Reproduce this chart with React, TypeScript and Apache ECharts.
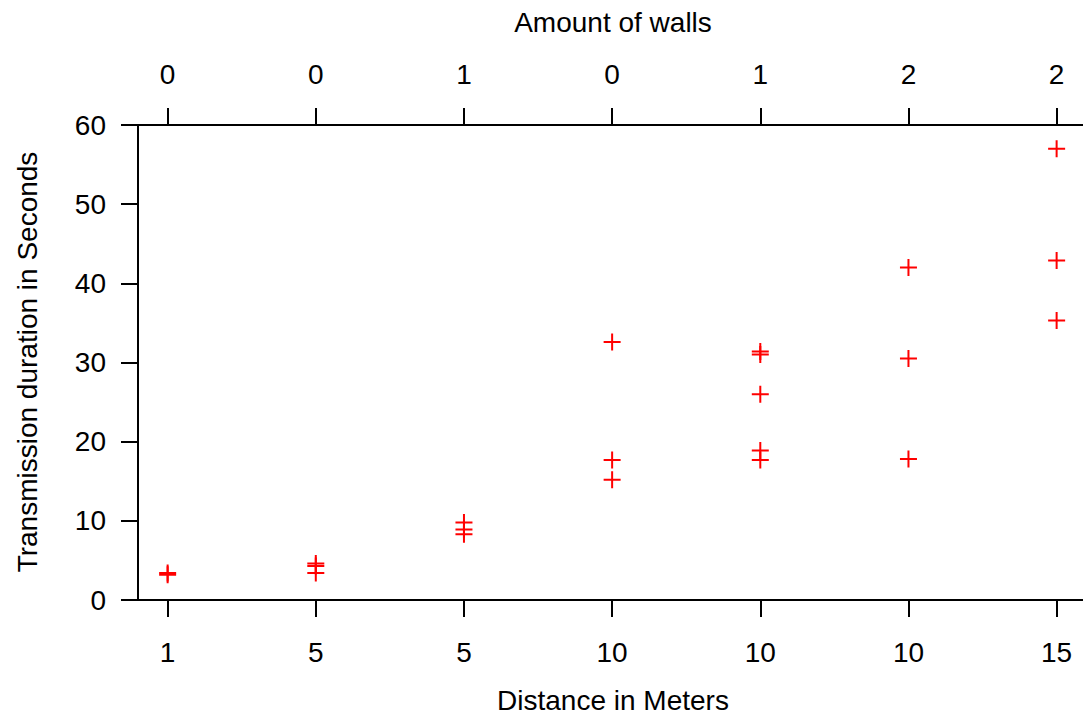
import React, { useEffect, useRef } from "react";
import * as echarts from "echarts";

const distanceLabels = ["1", "5", "5", "10", "10", "10", "15"];
const wallLabels = ["0", "0", "1", "0", "1", "2", "2"];
const durations: number[][] = [
  [3.2, 3.4],
  [4.6, 4.3, 3.4],
  [9.8, 8.9, 8.3],
  [32.6, 17.7, 15.2],
  [31.4, 31.0, 26.0, 18.9, 17.7],
  [42.0, 30.5, 17.8],
  [57.0, 42.9, 35.3],
];
const yTicks = [0, 10, 20, 30, 40, 50, 60];

const FONT = "Liberation Sans, Arial, sans-serif";
const FS = 28;

export default function App() {
  const ref = useRef<HTMLDivElement>(null);
  useEffect(() => {
    if (!ref.current) return;
    const chart = echarts.init(ref.current, null, { renderer: "svg" });
    const points: number[][] = [];
    durations.forEach((vals, i) => vals.forEach((v) => points.push([i, v])));
    const idx = distanceLabels.map((_, i) => i);
    const xCommon = {
      type: "value" as const,
      min: -0.2,
      max: 6.178,
      splitLine: { show: false },
      axisLine: { show: true, onZero: false, lineStyle: { color: "#000", width: 2 } },
      axisTick: { show: true, customValues: idx, length: 17, lineStyle: { color: "#000", width: 2 } },
    };
    chart.setOption({
      animation: false,
      textStyle: { fontFamily: FONT },
      grid: { left: 138, top: 125, right: 0, bottom: 115 },
      xAxis: [
        {
          ...xCommon,
          position: "bottom",
          axisLabel: {
            customValues: idx,
            margin: 38,
            fontSize: FS,
            color: "#000",
            fontFamily: FONT,
            formatter: (v: number) => distanceLabels[Math.round(v)] ?? "",
          },
        },
        {
          ...xCommon,
          position: "top",
          axisLabel: {
            customValues: idx,
            margin: 37,
            fontSize: FS,
            color: "#000",
            fontFamily: FONT,
            formatter: (v: number) => wallLabels[Math.round(v)] ?? "",
          },
        },
      ],
      yAxis: {
        type: "value",
        min: yTicks[0],
        max: yTicks[yTicks.length - 1],
        interval: 10,
        splitLine: { show: false },
        axisLine: { show: true, onZero: false, lineStyle: { color: "#000", width: 2 } },
        axisTick: { show: true, length: 17, lineStyle: { color: "#000", width: 2 } },
        axisLabel: { margin: 32, fontSize: FS, color: "#000", fontFamily: FONT },
      },
      graphic: [
        {
          type: "text",
          x: 613,
          y: 22,
          style: { text: "Amount of walls", fontSize: FS, fontFamily: FONT, fill: "#000", align: "center", verticalAlign: "middle" },
        },
        {
          type: "text",
          x: 613,
          y: 700,
          style: { text: "Distance in Meters", fontSize: FS, fontFamily: FONT, fill: "#000", align: "center", verticalAlign: "middle" },
        },
        {
          type: "text",
          x: 27,
          y: 362,
          rotation: Math.PI / 2,
          style: { text: "Transmission duration in Seconds", fontSize: FS, fontFamily: FONT, fill: "#000", align: "center", verticalAlign: "middle" },
        },
      ],
      series: [
        {
          type: "scatter",
          xAxisIndex: 0,
          data: points,
          symbol: "path://M8.5,0L8.5,17M0,8.5L17,8.5",
          symbolSize: 17,
          itemStyle: { color: "rgba(0,0,0,0)", borderColor: "#ff0000", borderWidth: 2, opacity: 1 },
          emphasis: { disabled: true },
        },
      ],
    });
    return () => chart.dispose();
  }, []);
  return <div ref={ref} style={{ width: 1083, height: 715, position: "absolute", left: 0, top: 0, background: "#fff" }} />;
}
